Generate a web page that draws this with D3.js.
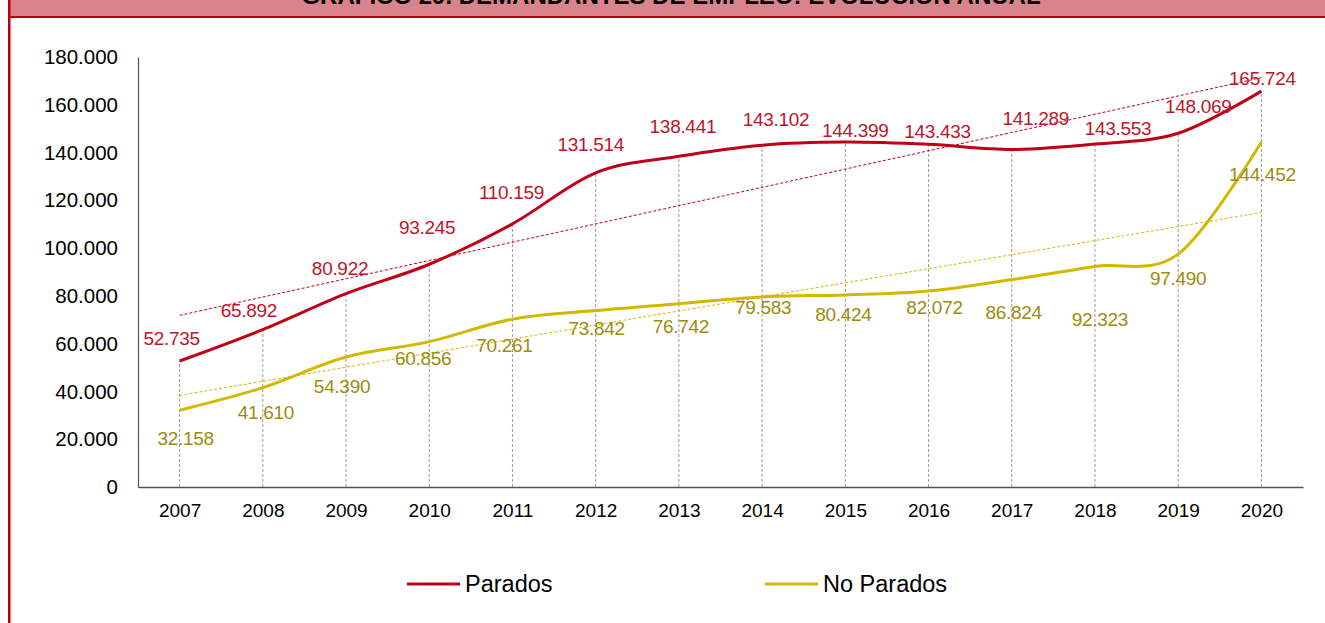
<!DOCTYPE html>
<html>
<meta charset="utf-8">
<head>
<title>demandantes de empleo</title>
<script src="https://d3js.org/d3.v7.min.js"></script>
<style>
body { margin: 0; background: #fff; }
text { font-family: "Liberation Sans", Arial, sans-serif; }
</style>
</head>
<body>
<div id="chart"></div>
<script>

// data
var years = ["2007","2008","2009","2010","2011","2012","2013","2014","2015","2016","2017","2018","2019","2020"];
var parados = [52735, 65892, 80922, 93245, 110159, 131514, 138441, 143102, 144399, 143433, 141289, 143553, 148069, 165724];
var noParados = [32158, 41610, 54390, 60856, 70261, 73842, 76742, 79583, 80424, 82072, 86824, 92323, 97490, 144452];
var yTicks = [0, 20000, 40000, 60000, 80000, 100000, 120000, 140000, 160000, 180000];
var seriesNames = ["Parados", "No Parados"];
var title = "GRÁFICO 29. DEMANDANTES DE EMPLEO: EVOLUCIÓN ANUAL";

// label nudges (px) as placed in the original
var parDx = [-8, -14, -6, -2, -1, -5, 4, 14, 10, 9, 24, 23, 20, 1];
var parDy = [-23, -19, -25, -37, -31, -28, -30, -26, -12, -13, -31, -16, -27, -13];
var noDx = [6, 3, -4, -6, -8, 1, 2, 1, -2, 6, 2, 5, 0, 1];
var noDy = [28, 25, 29, 17, 26, 18, 23, 10, 19, 16, 33, 53, 24, 32];

var red = "#C00018", redText = "#C0142A";
var gold = "#D4B700", goldText = "#9E8C0C";

var W = 1325, H = 623;
var margin = {top: 57, right: 22, bottom: 136, left: 138};
var width = W - margin.left - margin.right;
var height = H - margin.top - margin.bottom;

var svg = d3.select("#chart").append("svg")
	.attr("width", W)
	.attr("height", H);

// header band
svg.append("rect").attr("x", 9).attr("y", 0).attr("width", W - 9).attr("height", 16).attr("fill", "#D9848A");
svg.append("rect").attr("x", 9).attr("y", 16).attr("width", W - 9).attr("height", 2).attr("fill", "#B8000F");
svg.append("rect").attr("x", 8).attr("y", 0).attr("width", 2.5).attr("height", H).attr("fill", "#B8000F");
svg.append("text")
	.attr("x", 671).attr("y", 3.5)
	.attr("text-anchor", "middle")
	.attr("font-size", "24px").attr("font-weight", "bold")
	.attr("fill", "#000")
	.text(title);

var x = d3.scalePoint().domain(years).range([0, width]).padding(0.5);
var y = d3.scaleLinear().domain([0, 180000]).range([height, 0]);

var g = svg.append("g").attr("transform", "translate(" + margin.left + "," + margin.top + ")");

var fmt = function(v){ return d3.format(",")(v).replace(/,/g, "."); };

// drop lines
g.append("g").selectAll("line")
	.data(years)
	.enter().append("line")
	.attr("x1", function(d){ return x(d); })
	.attr("x2", function(d){ return x(d); })
	.attr("y1", height)
	.attr("y2", function(d, i){ return y(Math.max(parados[i], noParados[i])); })
	.attr("stroke", "#9a9a9a")
	.attr("stroke-width", 1)
	.attr("stroke-dasharray", "3,2");

// axes
var yAxis = d3.axisLeft(y).tickValues(yTicks).tickSize(0).tickPadding(20).tickFormat(fmt);
var yg = g.append("g").call(yAxis);
yg.select(".domain").attr("stroke", "#555").attr("stroke-width", 1.2);
yg.selectAll("text").attr("font-size", "20.5px").attr("fill", "#000")
	.attr("font-family", "'Liberation Sans', Arial, sans-serif");

var xAxis = d3.axisBottom(x).tickSize(0).tickPadding(17);
var xg = g.append("g").attr("transform", "translate(0," + height + ")").call(xAxis);
xg.select(".domain").attr("stroke", "#555").attr("stroke-width", 1.5);
xg.selectAll("text").attr("font-size", "19px").attr("fill", "#000")
	.attr("font-family", "'Liberation Sans', Arial, sans-serif");

// trend lines (linear least squares, like the spreadsheet trendline)
function trend(vals){
	var n = vals.length, mx = (n - 1) / 2, my = d3.mean(vals), sxy = 0, sxx = 0;
	vals.forEach(function(v, i){ sxy += (i - mx) * (v - my); sxx += (i - mx) * (i - mx); });
	var b = sxy / sxx, a = my - b * mx;
	return [a, a + b * (n - 1)];
}

var series = [
	{name: seriesNames[0], vals: parados, color: red, text: redText, dx: parDx, dy: parDy},
	{name: seriesNames[1], vals: noParados, color: gold, text: goldText, dx: noDx, dy: noDy}
];

series.forEach(function(s){
	var t = trend(s.vals);
	g.append("line")
		.attr("x1", x(years[0])).attr("y1", y(t[0]))
		.attr("x2", x(years[years.length - 1])).attr("y2", y(t[1]))
		.attr("stroke", s.color).attr("stroke-width", 1)
		.attr("stroke-dasharray", "3,2");
});

var line = d3.line()
	.x(function(d, i){ return x(years[i]); })
	.y(function(d){ return y(d); })
	.curve(d3.curveCardinal.tension(0));

series.forEach(function(s){
	g.append("path")
		.datum(s.vals)
		.attr("d", line)
		.attr("fill", "none")
		.attr("stroke", s.color)
		.attr("stroke-width", 3);
});

series.forEach(function(s){
	g.append("g").selectAll("text")
		.data(s.vals)
		.enter().append("text")
		.attr("x", function(d, i){ return x(years[i]) + s.dx[i]; })
		.attr("y", function(d, i){ return y(d) + s.dy[i]; })
		.attr("dy", "0.35em")
		.attr("text-anchor", "middle")
		.attr("font-size", "19px")
		.attr("letter-spacing", "-0.3px")
		.attr("fill", s.text)
		.text(fmt);
});

// legend
var legX = [407, 765];
var leg = svg.append("g").attr("transform", "translate(0,584)");
series.forEach(function(s, i){
	leg.append("line")
		.attr("x1", legX[i]).attr("x2", legX[i] + 53)
		.attr("y1", 0).attr("y2", 0)
		.attr("stroke", s.color).attr("stroke-width", 3);
	leg.append("text")
		.attr("x", legX[i] + 58).attr("y", 0).attr("dy", "0.35em")
		.attr("font-size", "23.5px").attr("fill", "#000")
		.text(s.name);
});

</script>
</body>
</html>
